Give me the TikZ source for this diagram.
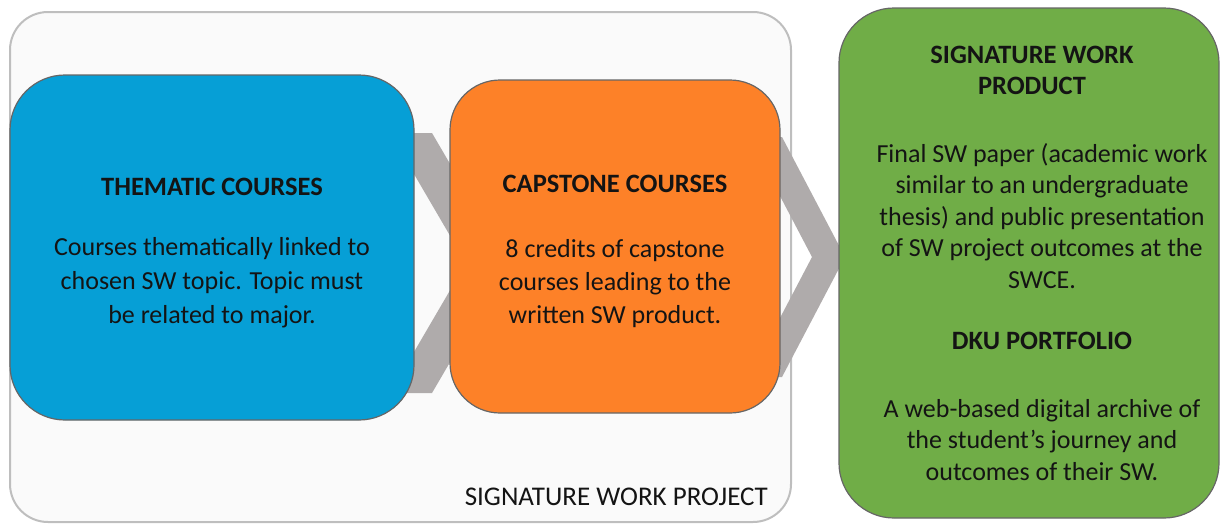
\documentclass[tikz,border=0pt]{standalone}
\usepackage{fontspec}
\setmainfont{Carlito}
\definecolor{dkublue}{RGB}{6,159,214}
\definecolor{dkuorange}{RGB}{253,129,40}
\definecolor{dkugreen}{RGB}{112,173,71}
\definecolor{chevgrey}{RGB}{175,171,171}
\definecolor{panelfill}{RGB}{250,250,250}
\definecolor{panelline}{RGB}{190,190,190}
\definecolor{txt}{RGB}{20,20,20}
\newcommand{\hdtxt}[1]{{\fontsize{26.5}{34}\selectfont\bfseries #1}}
\newcommand{\hdleft}[1]{\hbox{\hdtxt{#1}\kern20pt}}
\begin{document}
\begin{tikzpicture}[x=1pt,y=-1pt,
  stagebox/.style={draw=black!60, line width=1.2pt, inner sep=0pt},
  stagetext/.style={align=center, text=txt, inner sep=0pt},
  chev/.style={fill=chevgrey}]
\useasboundingbox (0,0) rectangle (1220,525);
% outer panel
\node[draw=panelline, fill=panelfill, line width=2pt, rounded corners=38pt,
  minimum width=781pt, minimum height=510pt, inner sep=0pt] (panel) at (400.5,267) {};
\node[anchor=east, text=txt, font=\fontsize{27}{30}\selectfont, inner sep=0pt] (paneltitle) at (768,497) {SIGNATURE WORK PROJECT};
% chevrons
\fill[chev] (390,133) -- (432,133) -- (508,263) -- (432,393) -- (390,393) -- (466,263) -- cycle;
\fill[chev] (749,137) -- (782,137) -- (845,257) -- (782,377) -- (749,377) -- (812,257) -- cycle;
% boxes
\node[stagebox, fill=dkublue, rounded corners=55pt, minimum width=404pt, minimum height=345pt] (thematic) at (212,247.5) {};
\node[stagebox, fill=dkuorange, rounded corners=50pt, minimum width=330pt, minimum height=333pt] (capstone) at (615,246.5) {};
\node[stagebox, fill=dkugreen, rounded corners=55pt, minimum width=380pt, minimum height=510pt] (product) at (1029,263) {};
% texts
\node[stagetext, font=\fontsize{26}{34}\selectfont] (thematictext) at ([yshift=-6pt]thematic.center)
 {\hdtxt{THEMATIC COURSES}\\[26pt]
  Courses thematically linked to\\ chosen SW topic. Topic must\\ be related to major.};
\node[stagetext, font=\fontsize{26}{33}\selectfont] (capstonetext) at ([yshift=-5pt]capstone.center)
 {\hdtxt{CAPSTONE COURSES}\\[32pt]
  8 credits of capstone\\ courses leading to the\\ written SW product.};
\node[stagetext, font=\fontsize{26}{31.5}\selectfont] (producttext) at ([xshift=13pt]product.center)
 {\hdleft{SIGNATURE WORK}\\ \hdleft{PRODUCT}\\[36pt]
  Final SW paper (academic work\\ similar to an undergraduate\\ thesis) and public presentation\\
  of SW project outcomes at the\\ SWCE.\\[30pt]
  \hdtxt{DKU PORTFOLIO}\\[36pt]
  A web-based digital archive of\\ the student's journey and\\ outcomes of their SW.};
\end{tikzpicture}
\end{document}
